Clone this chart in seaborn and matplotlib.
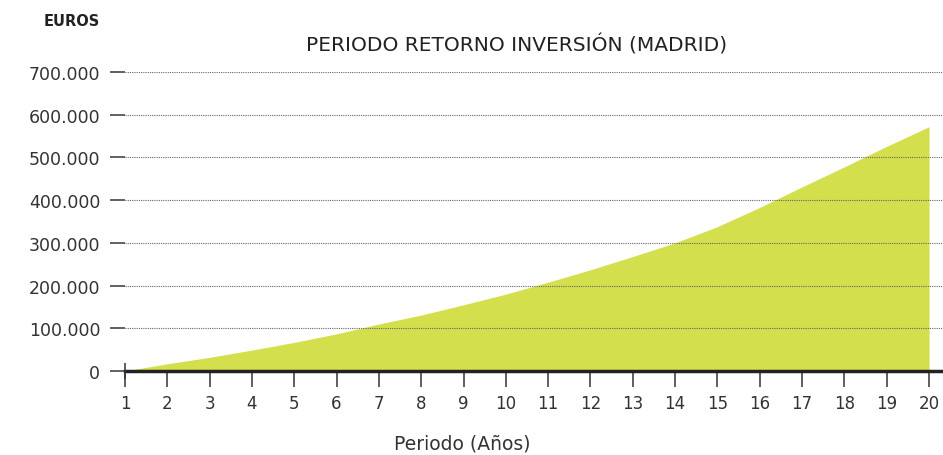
import matplotlib
matplotlib.use("Agg")
import matplotlib.pyplot as plt
import seaborn as sns
import pandas as pd

# data
years = list(range(1, 21))
euros = [0, 17000, 32000, 49000, 67000, 87000, 110000, 131000, 155000, 180000,
         208000, 237000, 268000, 300000, 338000, 383000, 431000, 478000, 526000, 572000]
y_ticks = [0, 100000, 200000, 300000, 400000, 500000, 600000, 700000]
y_labels = ["0", "100.000", "200.000", "300.000", "400.000", "500.000", "600.000", "700.000"]

df = pd.DataFrame({"periodo": years, "euros": euros})

sns.set_style("white")
plt.rcParams["font.family"] = ["DejaVu Sans"]

fig = plt.figure(figsize=(9.43, 4.56), dpi=100)
ax = fig.add_axes([125 / 943, 84 / 456, 818 / 943, 299 / 456])

fill_color = "#d4df4d"
sns.lineplot(data=df, x="periodo", y="euros", ax=ax, color=fill_color, linewidth=0)
ax.fill_between(df["periodo"], 0, df["euros"], color=fill_color, linewidth=0, zorder=1)

ax.set_xlim(1, 20.33)
ax.set_ylim(0, 700000)
ax.set_xticks(years)
ax.set_xticklabels([str(y) for y in years], fontsize=12, color="#333333")
ax.set_yticks(y_ticks)
ax.set_yticklabels(y_labels, fontsize=12.5, color="#333333")

ax.yaxis.grid(True, linestyle=(0, (1, 1)), linewidth=0.8, color="#666666", zorder=3)
ax.xaxis.grid(False)
ax.set_axisbelow(False)

for side in ["left", "right", "top"]:
    ax.spines[side].set_visible(False)
ax.spines["bottom"].set_color("#222222")
ax.spines["bottom"].set_linewidth(2.5)
ax.spines["bottom"].set_zorder(5)

ax.tick_params(axis="y", left=True, direction="out", length=10.8, width=1.3,
               color="#555555", pad=7)
ax.tick_params(axis="x", bottom=True, direction="out", length=11.5, width=1.1,
               color="#333333", pad=5)

# small upward tick at origin
ax.plot([years[0]], [0], marker="|", markersize=12, markeredgewidth=1.1, color="#333333",
        clip_on=False, zorder=6)

ax.set_xlabel("")
ax.set_ylabel("")

fig.text(517 / 943, 1 - 45 / 456, "PERIODO RETORNO INVERSIÓN (MADRID)", ha="center", va="center",
         fontsize=14.5, color="#222222")
fig.text(100 / 943, 1 - 21 / 456, "EUROS", ha="right", va="center", fontsize=10.5,
         fontweight="bold", color="#222222")
fig.text(462 / 943, 1 - 444 / 456, "Periodo (Años)", ha="center", va="center",
         fontsize=13.5, color="#333333")

fig.savefig("out.png", dpi=100)
plt.close(fig)
